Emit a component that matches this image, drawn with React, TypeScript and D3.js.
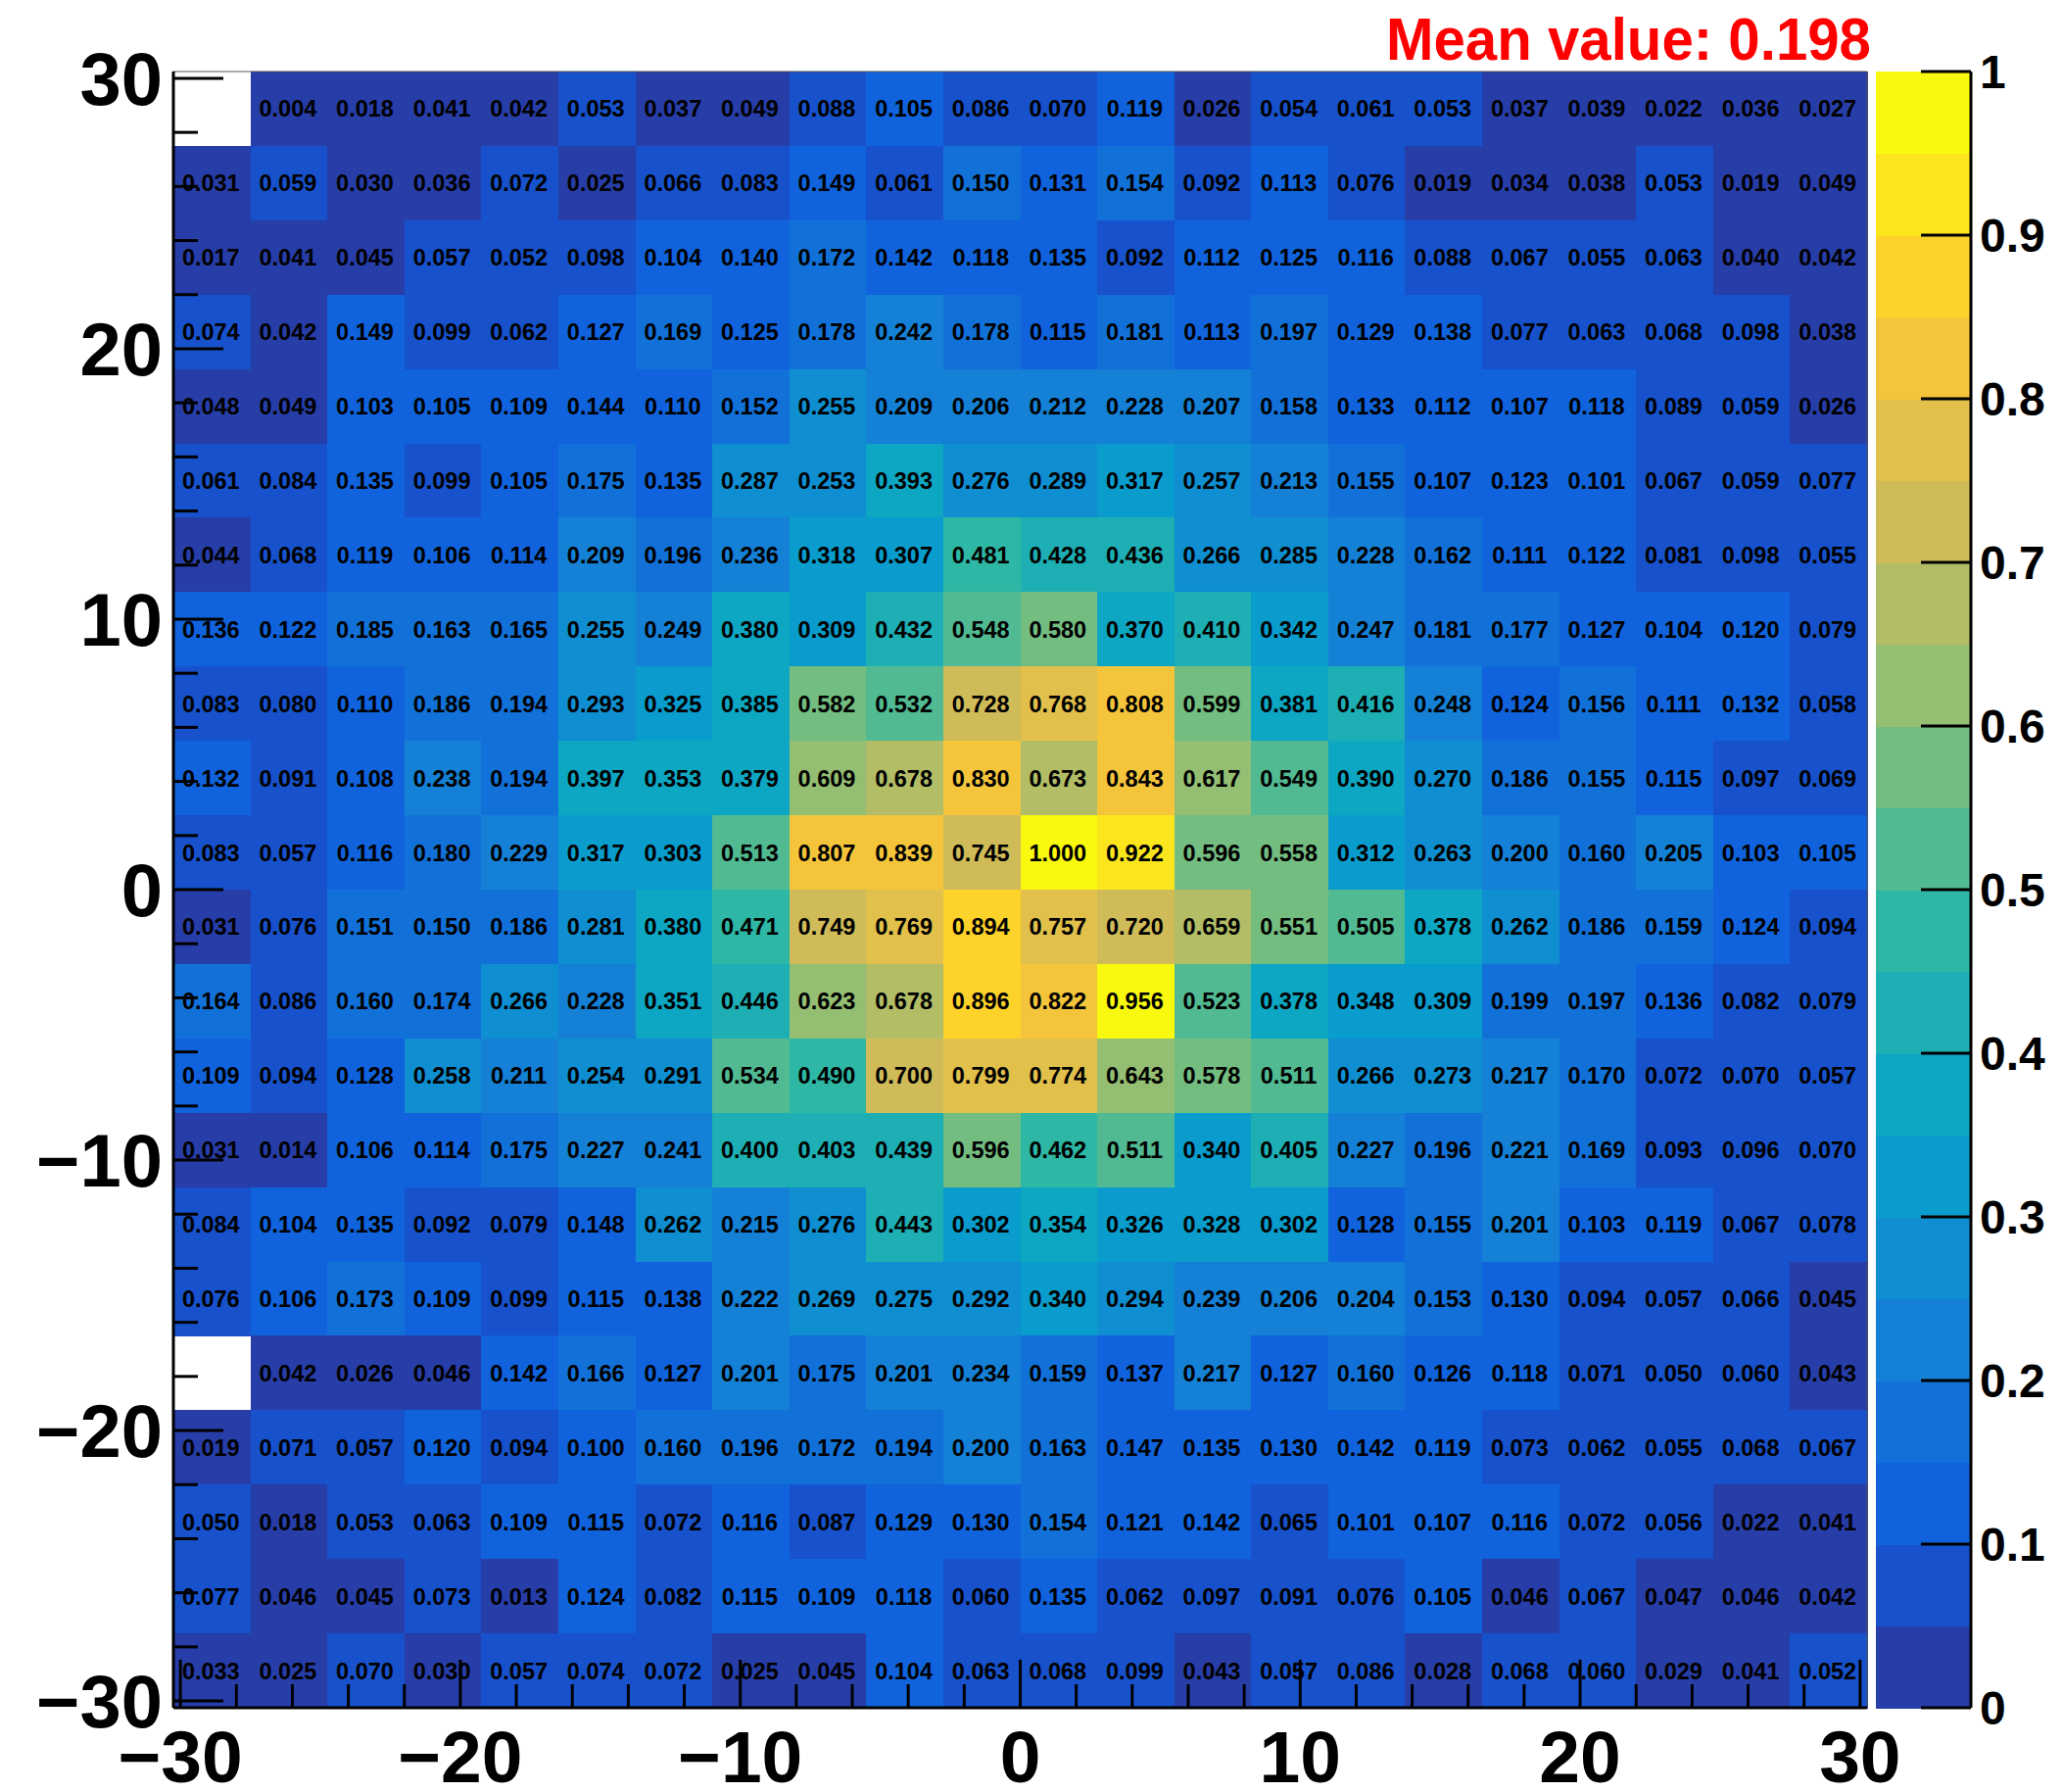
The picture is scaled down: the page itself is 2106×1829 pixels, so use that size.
import React from "react";
import * as d3 from "d3";

// ---------- DATA (rows from top y≈+30 down to bottom y≈-30; null = empty bin) ----------
const row01 = [null, 0.004, 0.018, 0.041, 0.042, 0.053, 0.037, 0.049, 0.088, 0.105, 0.086, 0.070, 0.119, 0.026, 0.054, 0.061, 0.053, 0.037, 0.039, 0.022, 0.036, 0.027];
const row02 = [0.031, 0.059, 0.030, 0.036, 0.072, 0.025, 0.066, 0.083, 0.149, 0.061, 0.150, 0.131, 0.154, 0.092, 0.113, 0.076, 0.019, 0.034, 0.038, 0.053, 0.019, 0.049];
const row03 = [0.017, 0.041, 0.045, 0.057, 0.052, 0.098, 0.104, 0.140, 0.172, 0.142, 0.118, 0.135, 0.092, 0.112, 0.125, 0.116, 0.088, 0.067, 0.055, 0.063, 0.040, 0.042];
const row04 = [0.074, 0.042, 0.149, 0.099, 0.062, 0.127, 0.169, 0.125, 0.178, 0.242, 0.178, 0.115, 0.181, 0.113, 0.197, 0.129, 0.138, 0.077, 0.063, 0.068, 0.098, 0.038];
const row05 = [0.048, 0.049, 0.103, 0.105, 0.109, 0.144, 0.110, 0.152, 0.255, 0.209, 0.206, 0.212, 0.228, 0.207, 0.158, 0.133, 0.112, 0.107, 0.118, 0.089, 0.059, 0.026];
const row06 = [0.061, 0.084, 0.135, 0.099, 0.105, 0.175, 0.135, 0.287, 0.253, 0.393, 0.276, 0.289, 0.317, 0.257, 0.213, 0.155, 0.107, 0.123, 0.101, 0.067, 0.059, 0.077];
const row07 = [0.044, 0.068, 0.119, 0.106, 0.114, 0.209, 0.196, 0.236, 0.318, 0.307, 0.481, 0.428, 0.436, 0.266, 0.285, 0.228, 0.162, 0.111, 0.122, 0.081, 0.098, 0.055];
const row08 = [0.136, 0.122, 0.185, 0.163, 0.165, 0.255, 0.249, 0.380, 0.309, 0.432, 0.548, 0.580, 0.370, 0.410, 0.342, 0.247, 0.181, 0.177, 0.127, 0.104, 0.120, 0.079];
const row09 = [0.083, 0.080, 0.110, 0.186, 0.194, 0.293, 0.325, 0.385, 0.582, 0.532, 0.728, 0.768, 0.808, 0.599, 0.381, 0.416, 0.248, 0.124, 0.156, 0.111, 0.132, 0.058];
const row10 = [0.132, 0.091, 0.108, 0.238, 0.194, 0.397, 0.353, 0.379, 0.609, 0.678, 0.830, 0.673, 0.843, 0.617, 0.549, 0.390, 0.270, 0.186, 0.155, 0.115, 0.097, 0.069];
const row11 = [0.083, 0.057, 0.116, 0.180, 0.229, 0.317, 0.303, 0.513, 0.807, 0.839, 0.745, 1.000, 0.922, 0.596, 0.558, 0.312, 0.263, 0.200, 0.160, 0.205, 0.103, 0.105];
const row12 = [0.031, 0.076, 0.151, 0.150, 0.186, 0.281, 0.380, 0.471, 0.749, 0.769, 0.894, 0.757, 0.720, 0.659, 0.551, 0.505, 0.378, 0.262, 0.186, 0.159, 0.124, 0.094];
const row13 = [0.164, 0.086, 0.160, 0.174, 0.266, 0.228, 0.351, 0.446, 0.623, 0.678, 0.896, 0.822, 0.956, 0.523, 0.378, 0.348, 0.309, 0.199, 0.197, 0.136, 0.082, 0.079];
const row14 = [0.109, 0.094, 0.128, 0.258, 0.211, 0.254, 0.291, 0.534, 0.490, 0.700, 0.799, 0.774, 0.643, 0.578, 0.511, 0.266, 0.273, 0.217, 0.170, 0.072, 0.070, 0.057];
const row15 = [0.031, 0.014, 0.106, 0.114, 0.175, 0.227, 0.241, 0.400, 0.403, 0.439, 0.596, 0.462, 0.511, 0.340, 0.405, 0.227, 0.196, 0.221, 0.169, 0.093, 0.096, 0.070];
const row16 = [0.084, 0.104, 0.135, 0.092, 0.079, 0.148, 0.262, 0.215, 0.276, 0.443, 0.302, 0.354, 0.326, 0.328, 0.302, 0.128, 0.155, 0.201, 0.103, 0.119, 0.067, 0.078];
const row17 = [0.076, 0.106, 0.173, 0.109, 0.099, 0.115, 0.138, 0.222, 0.269, 0.275, 0.292, 0.340, 0.294, 0.239, 0.206, 0.204, 0.153, 0.130, 0.094, 0.057, 0.066, 0.045];
const row18 = [null, 0.042, 0.026, 0.046, 0.142, 0.166, 0.127, 0.201, 0.175, 0.201, 0.234, 0.159, 0.137, 0.217, 0.127, 0.160, 0.126, 0.118, 0.071, 0.050, 0.060, 0.043];
const row19 = [0.019, 0.071, 0.057, 0.120, 0.094, 0.100, 0.160, 0.196, 0.172, 0.194, 0.200, 0.163, 0.147, 0.135, 0.130, 0.142, 0.119, 0.073, 0.062, 0.055, 0.068, 0.067];
const row20 = [0.050, 0.018, 0.053, 0.063, 0.109, 0.115, 0.072, 0.116, 0.087, 0.129, 0.130, 0.154, 0.121, 0.142, 0.065, 0.101, 0.107, 0.116, 0.072, 0.056, 0.022, 0.041];
const row21 = [0.077, 0.046, 0.045, 0.073, 0.013, 0.124, 0.082, 0.115, 0.109, 0.118, 0.060, 0.135, 0.062, 0.097, 0.091, 0.076, 0.105, 0.046, 0.067, 0.047, 0.046, 0.042];
const row22 = [0.033, 0.025, 0.070, 0.030, 0.057, 0.074, 0.072, 0.025, 0.045, 0.104, 0.063, 0.068, 0.099, 0.043, 0.057, 0.086, 0.028, 0.068, 0.060, 0.029, 0.041, 0.052];
const rowsTopDown: (number | null)[][] = [row01, row02, row03, row04, row05, row06, row07, row08, row09, row10, row11, row12, row13, row14, row15, row16, row17, row18, row19, row20, row21, row22];

const axisMin = -30.25;
const axisMax = 30.25;
const nBins = 22;
const axisTicks = [-30, -20, -10, 0, 10, 20, 30];
const zTicks = [0, 0.1, 0.2, 0.3, 0.4, 0.5, 0.6, 0.7, 0.8, 0.9, 1];
const nContours = 20;
const titleText = "Mean value: 0.198";

// kBird palette stops
const birdStops = [0.0, 0.125, 0.25, 0.375, 0.5, 0.625, 0.75, 0.875, 1.0];
const birdR = [0.2082, 0.0592, 0.078, 0.0232, 0.1802, 0.5301, 0.8186, 0.9956, 0.9764];
const birdG = [0.1664, 0.3599, 0.5041, 0.6419, 0.7178, 0.7492, 0.7328, 0.7862, 0.9832];
const birdB = [0.5293, 0.8684, 0.8385, 0.7914, 0.6425, 0.4662, 0.3499, 0.1968, 0.0539];

// ---------- LAYOUT ----------
const W = 2106;
const H = 1829;
const frame = { left: 177, right: 1906, top: 73, bottom: 1743 };
const cbar = { left: 1915, right: 2012 };
const FONT = "'Liberation Sans', Arial, Helvetica, sans-serif";

const birdInterp = (t: number) => {
  const sr = d3.scaleLinear<number>().domain(birdStops).range(birdR).clamp(true);
  const sg = d3.scaleLinear<number>().domain(birdStops).range(birdG).clamp(true);
  const sb = d3.scaleLinear<number>().domain(birdStops).range(birdB).clamp(true);
  return d3.rgb(sr(t) * 255, sg(t) * 255, sb(t) * 255).formatHex();
};

const levelColor = (level: number) => {
  const ncol = 255;
  const idx = Math.floor((level + 0.99) * ncol / nContours);
  return birdInterp(idx / ncol);
};

const valueColor = (v: number) => {
  let lvl = Math.floor(v / (1 / nContours) + 1e-9);
  if (lvl >= nContours) lvl = nContours - 1;
  if (lvl < 0) lvl = 0;
  return levelColor(lvl);
};

export default function App() {
  const x = d3.scaleLinear().domain([axisMin, axisMax]).range([frame.left, frame.right]);
  const y = d3.scaleLinear().domain([axisMin, axisMax]).range([frame.bottom, frame.top]);
  const z = d3.scaleLinear().domain([0, 1]).range([frame.bottom, frame.top]);
  const bw = (axisMax - axisMin) / nBins;

  const cells: any[] = [];
  rowsTopDown.forEach((row, ri) => {
    const j = nBins - 1 - ri; // y bin index from bottom
    row.forEach((v, i) => {
      if (v === null) return;
      const x0 = axisMin + i * bw;
      const y0 = axisMin + j * bw;
      cells.push({ v, x0, x1: x0 + bw, y0, y1: y0 + bw });
    });
  });

  const minorTicks = d3.range(-30, 30.001, 2).filter((t) => Math.abs(t % 10) > 1e-6);
  const fmt = (t: number) => (t < 0 ? "\u2212" + Math.abs(t) : String(t));
  const zfmt = (t: number) => (t === 0 ? "0" : t === 1 ? "1" : d3.format(".1f")(t));

  const levels = d3.range(nContours);

  return (
    <svg width={W} height={H} style={{ position: "absolute", left: 0, top: 0, background: "#fff" }} fontFamily={FONT}>
      <rect x={0} y={0} width={W} height={H} fill="#fff" />
      {/* cells */}
      {cells.map((c, k) => (
        <rect key={"c" + k} x={x(c.x0)} y={y(c.y1)} width={x(c.x1) - x(c.x0) + 0.5} height={y(c.y0) - y(c.y1) + 0.5} fill={valueColor(c.v)} shapeRendering="crispEdges" />
      ))}
      {/* frame top/right */}
      <line x1={frame.left} x2={frame.right} y1={frame.top} y2={frame.top} stroke="#555" strokeWidth={1} />
      <line x1={frame.right} x2={frame.right} y1={frame.top} y2={frame.bottom} stroke="#555" strokeWidth={1} />
      {/* cell texts */}
      {cells.map((c, k) => (
        <text key={"t" + k} x={(x(c.x0) + x(c.x1)) / 2 - 1} y={(y(c.y0) + y(c.y1)) / 2} dy="0.36em" textAnchor="middle" fontSize={23.5} fontWeight="bold" fill="#000">
          {c.v.toFixed(3)}
        </text>
      ))}
      {/* X axis */}
      <line x1={frame.left} x2={frame.right} y1={frame.bottom} y2={frame.bottom} stroke="#000" strokeWidth={3} />
      {axisTicks.map((t) => (
        <line key={"xt" + t} x1={x(t)} x2={x(t)} y1={frame.bottom} y2={frame.bottom - 49} stroke="#000" strokeWidth={3} />
      ))}
      {minorTicks.map((t) => (
        <line key={"xm" + t} x1={x(t)} x2={x(t)} y1={frame.bottom} y2={frame.bottom - 24} stroke="#000" strokeWidth={3} />
      ))}
      {axisTicks.map((t) => (
        <text key={"xl" + t} x={x(t)} y={frame.bottom + 76} textAnchor="middle" fontSize={75} fontWeight="bold" fill="#000">
          {fmt(t)}
        </text>
      ))}
      {/* Y axis */}
      <line x1={frame.left} x2={frame.left} y1={frame.top} y2={frame.bottom} stroke="#000" strokeWidth={3} />
      {axisTicks.map((t) => (
        <line key={"yt" + t} x1={frame.left} x2={frame.left + 51} y1={y(t)} y2={y(t)} stroke="#000" strokeWidth={3} />
      ))}
      {minorTicks.map((t) => (
        <line key={"ym" + t} x1={frame.left} x2={frame.left + 25} y1={y(t)} y2={y(t)} stroke="#000" strokeWidth={3} />
      ))}
      {axisTicks.map((t) => (
        <text key={"yl" + t} x={166} y={y(t)} dy="0.36em" textAnchor="end" fontSize={76} fontWeight="bold" fill="#000">
          {fmt(t)}
        </text>
      ))}
      {/* colour bar */}
      {levels.map((l) => (
        <rect key={"cb" + l} x={cbar.left} y={z((l + 1) / nContours)} width={cbar.right - cbar.left} height={z(l / nContours) - z((l + 1) / nContours) + 0.5} fill={levelColor(l)} shapeRendering="crispEdges" />
      ))}
      <line x1={cbar.right} x2={cbar.right} y1={frame.top} y2={frame.bottom} stroke="#000" strokeWidth={3} />
      {zTicks.map((t) => (
        <line key={"zt" + t} x1={cbar.right - 51} x2={cbar.right} y1={z(t)} y2={z(t)} stroke="#000" strokeWidth={3} />
      ))}
      {zTicks.map((t) => (
        <text key={"zl" + t} x={2021} y={z(t)} dy="0.36em" textAnchor="start" fontSize={48} fontWeight="bold" fill="#000">
          {zfmt(t)}
        </text>
      ))}
      {/* title */}
      <text x={1910} y={61} textAnchor="end" fontSize={62} fontWeight="bold" fill="#ff0000" textLength={495} lengthAdjust="spacingAndGlyphs">
        {titleText}
      </text>
    </svg>
  );
}
